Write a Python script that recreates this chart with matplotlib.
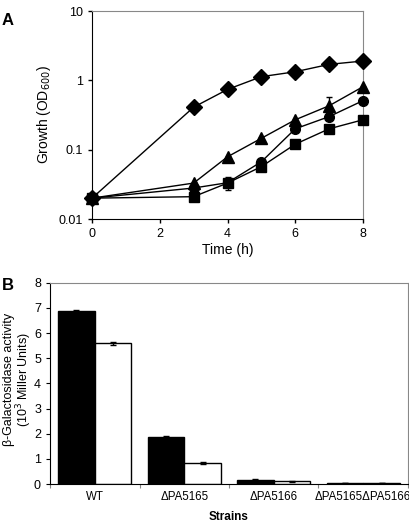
import matplotlib.pyplot as plt
import numpy as np

plt.rcParams['font.family'] = ['Liberation Sans', 'DejaVu Sans']

# Panel A: growth curves
time_h = [0, 3, 4, 5, 6, 7, 8]
od_diamond = [0.02, 0.41, 0.74, 1.13, 1.33, 1.70, 1.90]
od_triangle = [0.02, 0.033, 0.079, 0.146, 0.27, 0.43, 0.81]
od_circle = [0.02, 0.028, 0.0334, 0.067, 0.20, 0.30, 0.51]
od_square = [0.02, 0.021, 0.033, 0.057, 0.12, 0.20, 0.27]
err_triangle_up = [0, 0, 0, 0, 0, 0.15, 0]
err_square = [0, 0, 0.007, 0, 0, 0, 0]

# Panel B: beta-galactosidase activity
strains = ['WT', 'ΔPA5165', 'ΔPA5166', 'ΔPA5165ΔPA5166']
act_black = [6.88, 1.87, 0.17, 0.04]
act_white = [5.60, 0.82, 0.11, 0.04]
err_black = [0.03, 0.03, 0.02, 0.0]
err_white = [0.06, 0.04, 0.01, 0.0]

fig = plt.figure(figsize=(4.1, 5.24), dpi=100)

# ---- panel A ----
axA = fig.add_axes([0.2244, 0.582, 0.661, 0.397])
axA.plot(time_h, od_diamond, color='black', lw=1, marker='D', ms=8, zorder=3, clip_on=False)
axA.errorbar(time_h, od_triangle, yerr=[[0] * 7, err_triangle_up], color='black',
             lw=1, marker='^', ms=8, capsize=2, elinewidth=1, zorder=3, clip_on=False)
axA.plot(time_h, od_circle, color='black', lw=1, marker='o', ms=7, zorder=3, clip_on=False)
axA.errorbar(time_h, od_square, yerr=err_square, color='black', lw=1,
             marker='s', ms=6.5, capsize=2, elinewidth=1, zorder=3, clip_on=False)
axA.set_yscale('log')
axA.set_ylim(0.01, 10)
axA.set_xlim(0, 8)
axA.set_yticks([0.01, 0.1, 1, 10])
axA.set_yticklabels(['0.01', '0.1', '1', '10'])
axA.minorticks_off()
axA.set_xticks([0, 2, 4, 6, 8])
axA.tick_params(labelsize=9, length=3, width=1)
axA.set_xlabel('Time (h)', fontsize=10, labelpad=2)
axA.set_ylabel('Growth (OD$_{600}$)', fontsize=10, labelpad=4)
for s in ['top', 'right']:
    axA.spines[s].set_color('#888888')
fig.text(0.005, 0.975, 'A', fontsize=12, fontweight='bold', va='top')

# ---- panel B ----
axB = fig.add_axes([0.122, 0.0763, 0.873, 0.384])
x = np.arange(len(strains)) + 0.5
w = 0.41
axB.bar(x - w / 2, act_black, w, color='black', edgecolor='black', lw=1,
        yerr=err_black, error_kw=dict(ecolor='black', capsize=2, elinewidth=1))
axB.bar(x + w / 2, act_white, w, color='white', edgecolor='black', lw=1,
        yerr=err_white, error_kw=dict(ecolor='black', capsize=2, elinewidth=1))
axB.set_xlim(0, len(strains))
axB.set_ylim(0, 8)
axB.set_yticks(range(0, 9))
axB.set_xticks(range(0, len(strains) + 1), minor=False)
axB.set_xticklabels([''] * (len(strains) + 1))
axB.set_xticks(x, minor=True)
axB.set_xticklabels(strains, minor=True)
axB.tick_params(axis='x', which='minor', length=0, labelsize=8.3, pad=5)
axB.tick_params(axis='x', which='major', length=3, color='#888888')
axB.tick_params(axis='y', labelsize=9, length=3)
axB.set_xlabel('Strains', fontsize=8.5, fontweight='bold', labelpad=6)
axB.set_ylabel('β-Galactosidase activity\n(10$^3$ Miller Units)', fontsize=9,
               linespacing=1.0, va='center')
axB.yaxis.set_label_coords(-0.088, 0.52)
for s in ['top', 'right']:
    axB.spines[s].set_color('#888888')
fig.text(0.005, 0.47, 'B', fontsize=12, fontweight='bold', va='top')

fig.savefig('out.png', dpi=100)
